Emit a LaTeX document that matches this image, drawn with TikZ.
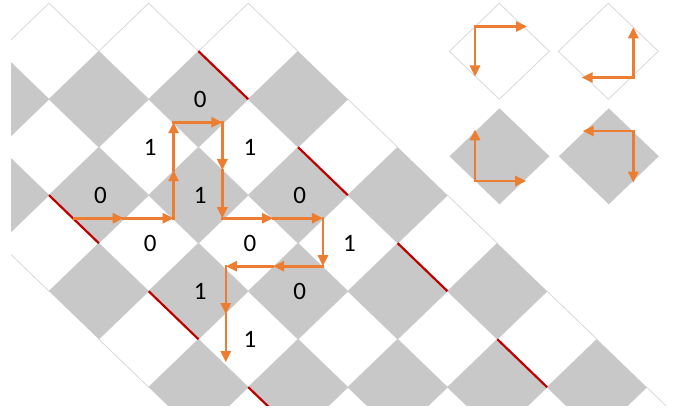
\documentclass[tikz,border=0pt]{standalone}
\usepackage{fontspec}
\setmainfont{Carlito}
\usetikzlibrary{arrows.meta}
\definecolor{cellgray}{RGB}{200,200,200}
\definecolor{edgegray}{RGB}{217,217,217}
\definecolor{pathorange}{RGB}{237,125,49}
\definecolor{markred}{RGB}{192,0,0}
\begin{document}
\begin{tikzpicture}[x=1pt,y=-1pt,
  whitecell/.style={fill=white,draw=edgegray,line width=0.8pt},
  graycell/.style={fill=cellgray},
  redmark/.style={draw=markred,line width=2.2pt},
  flow/.style={draw=pathorange,line width=2.6pt,line cap=rect,-{Triangle[length=11pt,width=10pt]}},
  twoflow/.style={draw=pathorange,line width=2.6pt,{Triangle[length=11pt,width=10pt]}-{Triangle[length=11pt,width=10pt]}},
  digit/.style={font=\fontsize{25}{30}\selectfont,inner sep=0pt}]
\useasboundingbox (0,0) rectangle (678,414);
\begin{scope}
\clip (11,0) rectangle (678,405);
\begin{scope}[shift={(-0.8,3.2)},x=49.81pt,y=-48pt]
% white cells
\foreach \b in {1,3,5,7,9}{
  \foreach \d in {-4,-2,0,2,4}{
    \draw[whitecell] ({\b+\d-1},{\b}) -- ({\b+\d},{\b-1}) -- ({\b+\d+1},{\b}) -- ({\b+\d},{\b+1}) -- cycle;
  }
}
% gray cells
\foreach \b in {2,4,6,8}{
  \foreach \d in {-4,-2,0,2,4}{
    \fill[graycell] ({\b+\d-1},{\b}) -- ({\b+\d},{\b-1}) -- ({\b+\d+1},{\b}) -- ({\b+\d},{\b+1}) -- cycle;
  }
}
% red marks
\draw[redmark] (4,1) -- (5,2);
\draw[redmark] (6,3) -- (7,4);
\draw[redmark] (8,5) -- (9,6);
\draw[redmark] (10,7) -- (11,8);
\draw[redmark] (1,4) -- (2,5);
\draw[redmark] (3,6) -- (4,7);
\draw[redmark] (5,8) -- (6,9);
% labels
\node[digit] (c42) at (4.034,2.01) {0};
\node[digit] (c33) at (3.034,3.01) {1};
\node[digit] (c53) at (5.034,3.01) {1};
\node[digit] (c24) at (2.034,4.01) {0};
\node[digit] (c44) at (4.034,4.01) {1};
\node[digit] (c64) at (6.034,4.01) {0};
\node[digit] (c35) at (3.034,5.01) {0};
\node[digit] (c55) at (5.034,5.01) {0};
\node[digit] (c75) at (7.034,5.01) {1};
\node[digit] (c46) at (4.034,6.01) {1};
\node[digit] (c66) at (6.034,6.01) {0};
\node[digit] (c57) at (5.034,7.01) {1};
% path points
\coordinate (P0) at (1.5,4.48);
\coordinate (P1) at (2.5,4.48);
\coordinate (P2) at (3.5,4.48);
\coordinate (P3) at (3.5,3.48);
\coordinate (P4) at (3.5,2.48);
\coordinate (P5) at (4.48,2.48);
\coordinate (P6) at (4.48,3.48);
\coordinate (P7) at (4.48,4.48);
\coordinate (P8) at (5.5,4.48);
\coordinate (P9) at (6.5,4.48);
\coordinate (P10) at (6.5,5.48);
\coordinate (P11) at (5.5,5.48);
\coordinate (P12) at (4.55,5.48);
\coordinate (P13) at (4.55,6.48);
\coordinate (P14) at (4.55,7.48);
\draw[flow] (P0) -- (P1);
\draw[flow] (P1) -- (P2);
\draw[flow] (P2) -- (P3);
\draw[flow] (P3) -- (P4);
\draw[flow] (P4) -- (P5);
\draw[flow] (P5) -- (P6);
\draw[flow] (P6) -- (P7);
\draw[flow] (P7) -- (P8);
\draw[flow] (P8) -- (P9);
\draw[flow] (P9) -- (P10);
\draw[flow] (P10) -- (P11);
\draw[flow] (P11) -- (P12);
\draw[flow] (P12) -- (P13);
\draw[flow] (P13) -- (P14);
\end{scope}
\end{scope}
% legend cells
\draw[whitecell] (449.3,51.3) -- (499.3,3.3) -- (549.3,51.3) -- (499.3,99.3) -- cycle;
\draw[whitecell] (558.3,51.3) -- (608.3,3.3) -- (658.3,51.3) -- (608.3,99.3) -- cycle;
\fill[graycell] (449.5,156.3) -- (499.5,108.3) -- (549.5,156.3) -- (499.5,204.3) -- cycle;
\fill[graycell] (558.8,156.3) -- (608.8,108.3) -- (658.8,156.3) -- (608.8,204.3) -- cycle;
% legend arrows
\coordinate (C1) at (475,26.5);
\coordinate (R1) at (527,26.5);
\coordinate (D1) at (475,76.5);
\coordinate (C2) at (633.3,77.5);
\coordinate (U2) at (633.3,27.3);
\coordinate (L2) at (581.7,77.5);
\coordinate (C3) at (475,181);
\coordinate (U3) at (475,129.3);
\coordinate (R3) at (526,181);
\coordinate (C4) at (633.3,131);
\coordinate (L4) at (582.7,131);
\coordinate (D4) at (633.3,182.7);
\draw[twoflow] (D1) -- (C1) -- (R1);
\draw[twoflow] (L2) -- (C2) -- (U2);
\draw[twoflow] (U3) -- (C3) -- (R3);
\draw[twoflow] (L4) -- (C4) -- (D4);
\end{tikzpicture}
\end{document}
